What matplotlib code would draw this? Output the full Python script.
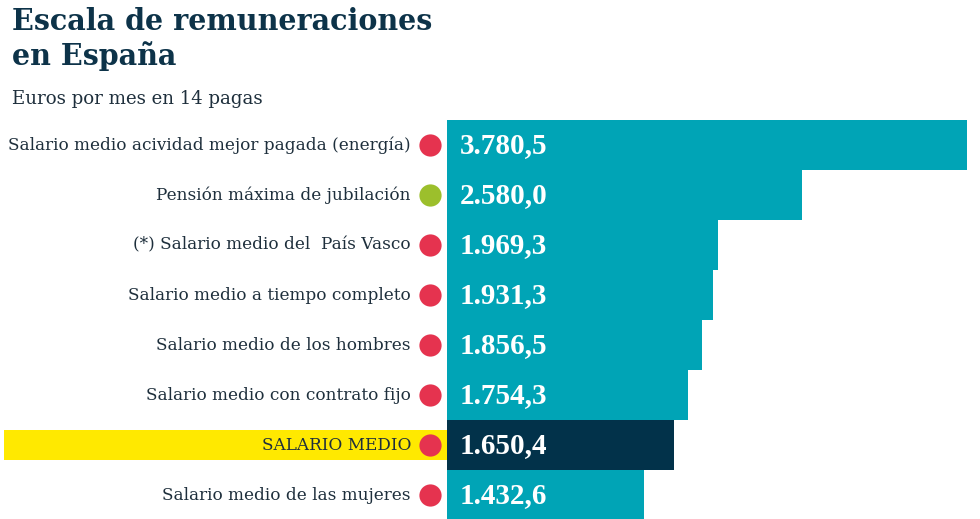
import matplotlib
matplotlib.use("Agg")
import matplotlib.pyplot as plt
from matplotlib.transforms import ScaledTranslation
from matplotlib.patches import Rectangle

categories = [
    "Salario medio acividad mejor pagada (energía)",
    "Pensión máxima de jubilación",
    "(*) Salario medio del  País Vasco",
    "Salario medio a tiempo completo",
    "Salario medio de los hombres",
    "Salario medio con contrato fijo",
    "SALARIO MEDIO",
    "Salario medio de las mujeres",
]
values = [3780.5, 2580.0, 1969.3, 1931.3, 1856.5, 1754.3, 1650.4, 1432.6]
value_labels = ["3.780,5", "2.580,0", "1.969,3", "1.931,3", "1.856,5", "1.754,3", "1.650,4", "1.432,6"]
dot_kind = ["red", "green", "red", "red", "red", "red", "red", "red"]
highlight = "SALARIO MEDIO"

TEAL = "#00A4B6"
DARK = "#02324A"
RED = "#E5334F"
GREEN = "#9CBF2C"
YELLOW = "#FFE900"
NAVY = "#0D3349"
TEXT = "#1E2F3C"

W, H = 980, 519
fig = plt.figure(figsize=(W / 100, H / 100), dpi=100)
fig.patch.set_facecolor("white")

ax = fig.add_axes([447 / W, (H - 520) / H, 520 / W, 400 / H])
ax.set_xlim(0, max(values))
ax.set_ylim(len(values) - 0.5, -0.5)
ax.axis("off")

ys = list(range(len(values)))
colors = [DARK if c == highlight else TEAL for c in categories]
ax.barh(ys, values, height=1.0, color=colors, edgecolor="none", clip_on=False, zorder=2)

dpi_t = fig.dpi_scale_trans
for i, (cat, lab, kind) in enumerate(zip(categories, value_labels, dot_kind)):
    ax.annotate(lab, (0, i), xytext=(13, -1), textcoords="offset pixels",
                ha="left", va="center", color="white", fontsize=21,
                fontweight="bold", family="Liberation Serif", zorder=7)
    ax.annotate(cat, (0, i), xytext=(-36, 0), textcoords="offset pixels",
                ha="right", va="center", color=TEXT, fontsize=12.15,
                family="DejaVu Serif", zorder=5)
    tr = ax.transData + ScaledTranslation(-17 / 100, 0, dpi_t)
    ax.plot([0], [i], marker="o", markersize=16, color=RED if kind == "red" else GREEN,
            markeredgewidth=0, transform=tr, clip_on=False, zorder=6)
    if cat == highlight:
        rect = Rectangle((4 / W, (H - 460) / H), (447 - 4) / W, 30 / H,
                         transform=fig.transFigure, facecolor=YELLOW,
                         edgecolor="none", zorder=1, clip_on=False)
        ax.add_patch(rect)

fig.text(12 / W, 1 - 7 / H, "Escala de remuneraciones\nen España", ha="left", va="top",
         fontsize=20.6, fontweight="bold", family="DejaVu Serif", color=NAVY,
         linespacing=1.2)
fig.text(12 / W, 1 - 99 / H, "Euros por mes en 14 pagas", ha="left", va="center",
         fontsize=13.1, family="DejaVu Serif", color=TEXT)

fig.savefig("out.png", dpi=100, facecolor="white")
